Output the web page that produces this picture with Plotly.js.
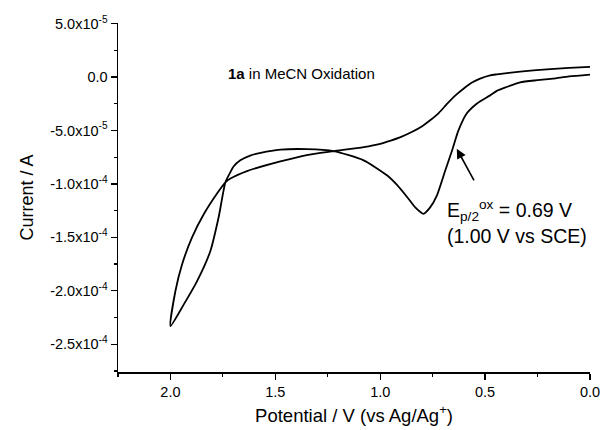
<!DOCTYPE html>
<html>
<head>
<meta charset="utf-8">
<script src="https://cdn.plot.ly/plotly-3.0.1.min.js"></script>
<style>html,body{margin:0;padding:0;background:#fff;}#chart{width:600px;height:430px;}</style>
</head>
<body>
<div id="chart"></div>
<script>
// Forward (oxidation) scan: 0.0 V -> 2.0 V
const forwardE = [0.00, 0.10, 0.175, 0.25, 0.333, 0.397, 0.444, 0.476, 0.54, 0.587, 0.627, 0.658, 0.69, 0.73, 0.762, 0.794, 0.833, 0.873, 0.92, 0.968, 1.079, 1.222, 1.35, 1.476, 1.57, 1.62, 1.667, 1.70, 1.714, 1.738, 1.77, 1.81, 1.873, 1.937, 2.0];
const forwardI = [0.22e-5, 0.05e-5, -0.15e-5, -0.3e-5, -0.5e-5, -0.94e-5, -1.3e-5, -1.72e-5, -2.5e-5, -3.4e-5, -5.0e-5, -6.9e-5, -8.75e-5, -11.1e-5, -12.2e-5, -12.8e-5, -12.2e-5, -11.2e-5, -10.1e-5, -9.2e-5, -7.8e-5, -6.94e-5, -6.75e-5, -6.8e-5, -7.1e-5, -7.35e-5, -7.8e-5, -8.4e-5, -8.9e-5, -9.85e-5, -13.1e-5, -16.3e-5, -19.1e-5, -21.3e-5, -23.3e-5];
// Reverse scan: 2.0 V -> 0.0 V
const reverseE = [1.976, 1.944, 1.897, 1.84, 1.778, 1.738, 1.714, 1.635, 1.476, 1.35, 1.222, 1.079, 1.0, 0.95, 0.9, 0.85, 0.8, 0.762, 0.72, 0.683, 0.64, 0.603, 0.56, 0.524, 0.476, 0.444, 0.333, 0.206, 0.1, 0.0];
const reverseI = [-20.0e-5, -17.5e-5, -15.0e-5, -12.8e-5, -10.9e-5, -9.85e-5, -9.5e-5, -8.8e-5, -7.9e-5, -7.3e-5, -6.94e-5, -6.56e-5, -6.25e-5, -5.95e-5, -5.6e-5, -5.15e-5, -4.6e-5, -4.05e-5, -3.35e-5, -2.55e-5, -1.7e-5, -1.1e-5, -0.5e-5, -0.15e-5, 0.16e-5, 0.25e-5, 0.5e-5, 0.72e-5, 0.85e-5, 0.94e-5];

const yTickVals = [5e-5, 0, -5e-5, -1e-4, -1.5e-4, -2e-4, -2.5e-4];
const yTickText = ["5.0x10<sup>-5</sup>", "0.0", "-5.0x10<sup>-5</sup>", "-1.0x10<sup>-4</sup>", "-1.5x10<sup>-4</sup>", "-2.0x10<sup>-4</sup>", "-2.5x10<sup>-4</sup>"];
const xTickVals = [2.0, 1.5, 1.0, 0.5, 0.0];
const xTickText = ["2.0", "1.5", "1.0", "0.5", "0.0"];

const E = forwardE.concat(reverseE);
const I = forwardI.concat(reverseI);

const font = "Arial, 'Liberation Sans', sans-serif";

const data = [{
  x: E, y: I, type: 'scatter', mode: 'lines',
  line: {color: '#000', width: 1.8, shape: 'spline', smoothing: 0.6},
  hoverinfo: 'skip'
}];

const layout = {
  width: 600, height: 430,
  margin: {l: 118, r: 10, t: 23, b: 58},
  paper_bgcolor: '#fff', plot_bgcolor: '#fff',
  showlegend: false,
  font: {family: font, color: '#000', size: 14},
  xaxis: {
    range: [2.25, 0.0], showgrid: false, zeroline: false,
    showline: true, linecolor: '#000', linewidth: 1.5,
    ticks: 'outside', ticklen: 6, tickwidth: 1.3, tickcolor: '#000',
    tickmode: 'array', tickvals: xTickVals, ticktext: xTickText,
    ticklabeloverflow: 'allow',
    tickfont: {size: 14.5, family: font},
    minor: {ticks: 'outside', ticklen: 3, tickwidth: 1.2, tickcolor: '#000', dtick: 0.25, tick0: 0},
    title: {text: 'Potential / V (vs Ag/Ag<sup>+</sup>)', font: {size: 18.5, family: font}, standoff: 10}
  },
  yaxis: {
    range: [-2.76e-4, 5.05e-5], showgrid: false, zeroline: false,
    showline: true, linecolor: '#000', linewidth: 1.5,
    ticks: 'outside', ticklen: 6, tickwidth: 1.3, tickcolor: '#000',
    tickmode: 'array', tickvals: yTickVals, ticktext: yTickText,
    ticklabeloverflow: 'allow',
    tickfont: {size: 14.5, family: font},
    minor: {ticks: 'outside', ticklen: 3, tickwidth: 1.2, tickcolor: '#000', dtick: 2.5e-5, tick0: 0},
    title: {text: 'Current / A', font: {size: 18, family: font}, standoff: 12}
  },
  annotations: [
    {x: 1.733, y: 0.35e-5, xref: 'x', yref: 'y', xanchor: 'left', yanchor: 'middle',
     text: '<b>1a</b> in MeCN Oxidation', showarrow: false, font: {size: 15, family: font}},
    {x: 0.69, y: -1.36e-4, xref: 'x', yref: 'y', xanchor: 'left', yanchor: 'middle', align: 'left',
     text: 'E<sub>p/2</sub><sup>ox</sup> = 0.69 V<br>(1.00 V vs SCE)', showarrow: false, font: {size: 19.5, family: font}},
    {x: 0.635, y: -6.72e-5, xref: 'x', yref: 'y', ax: 18, ay: 33, text: '',
     showarrow: true, arrowhead: 2, arrowsize: 1.2, arrowwidth: 1.6, arrowcolor: '#000'}
  ]
};

Plotly.newPlot('chart', data, layout, {staticPlot: true, displayModeBar: false});
</script>
</body>
</html>
